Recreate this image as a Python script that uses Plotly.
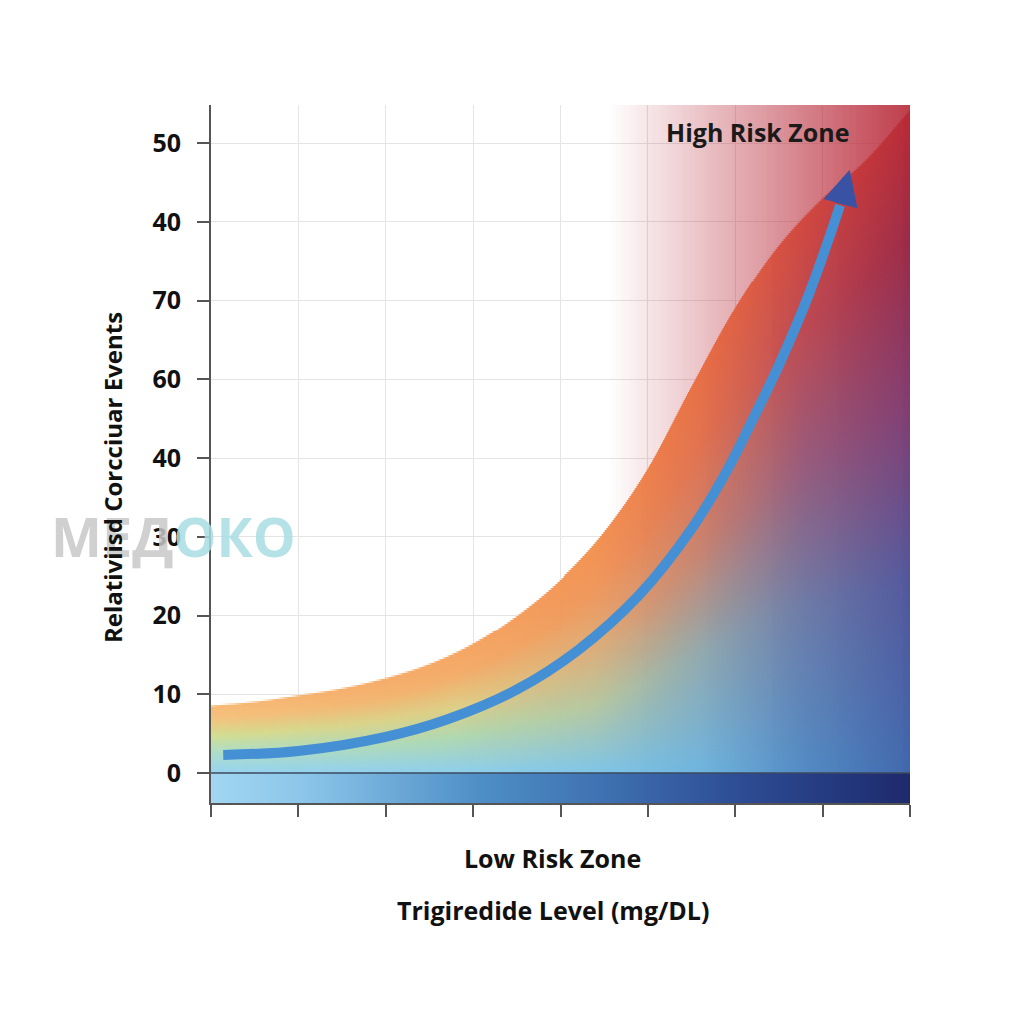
import numpy as np
import plotly.graph_objects as go

# ---------------- data ----------------
curve_x = [0, 0.5, 1.0, 1.5, 2.0, 2.5, 3.0, 3.5, 4.0, 4.5, 5.0, 5.5, 6.0, 6.5, 7.0, 7.5, 8.0]
curve_y = [8.5, 9.0, 9.8, 10.7, 12.0, 13.8, 16.4, 20.0, 24.6, 30.6, 38.6, 49.0, 59.0, 67.0, 73.0, 77.9, 84.2]

arrow_x = [0.14, 1.0, 2.0, 2.7, 3.5, 4.2, 4.9, 5.5, 5.9, 6.2, 6.5, 6.85, 7.2]
arrow_y = [2.3, 2.8, 4.6, 6.8, 10.6, 15.6, 22.6, 31.0, 38.3, 44.9, 51.8, 61.0, 72.1]
arrow_tip = (7.31, 76.6)

y_tickvals = [0, 10, 20, 30, 40, 50, 60, 70, 80]
y_ticktext = ["0", "10", "20", "30", "40", "60", "70", "40", "50"]
x_tickvals = [0, 1, 2, 3, 4, 5, 6, 7, 8]

X_RANGE = [0, 8]
Y_RANGE = [-3.81, 84.83]

FONT = "Open Sans"


# ---------------- helpers ----------------
def hex2rgb(h):
    h = h.lstrip("#")
    return [int(h[i:i + 2], 16) for i in (0, 2, 4)]


def catmull(xs, ys, n=40):
    xs = np.asarray(xs, float)
    ys = np.asarray(ys, float)
    px = np.concatenate([[2 * xs[0] - xs[1]], xs, [2 * xs[-1] - xs[-2]]])
    py = np.concatenate([[2 * ys[0] - ys[1]], ys, [2 * ys[-1] - ys[-2]]])
    ox, oy = [], []
    for i in range(1, len(px) - 2):
        t = np.linspace(0, 1, n, endpoint=False)
        for arr, out in ((px, ox), (py, oy)):
            p0, p1, p2, p3 = arr[i - 1], arr[i], arr[i + 1], arr[i + 2]
            out.extend(0.5 * ((2 * p1) + (-p0 + p2) * t + (2 * p0 - 5 * p1 + 4 * p2 - p3) * t ** 2
                              + (-p0 + 3 * p1 - 3 * p2 + p3) * t ** 3))
    ox.append(xs[-1])
    oy.append(ys[-1])
    return np.array(ox), np.array(oy)


# ---------------- gradient image (fill under curve, risk zone, base strip) ----------------
nx, ny = 700, 350
dx = (X_RANGE[1] - X_RANGE[0]) / nx
dy = (Y_RANGE[1] - Y_RANGE[0]) / ny
xc = X_RANGE[0] + (np.arange(nx) + 0.5) * dx
yc = Y_RANGE[0] + (np.arange(ny) + 0.5) * dy
sx, sy = catmull(curve_x, curve_y)
order = np.argsort(sx)
cy = np.interp(xc, sx[order], sy[order])
u = (xc - X_RANGE[0]) / (X_RANGE[1] - X_RANGE[0])

u_stops = [0.0, 0.35, 0.55, 0.7, 0.85, 1.0]
t_stops = [0.0, 0.3, 0.55, 0.8, 1.0]
table = [
    ["#92d2f0", "#88ccec", "#78c2e6", "#68b4e0", "#4c8cc8", "#3a6ab2"],
    ["#a8dcc8", "#acd6ac", "#b4c49a", "#8ea8ac", "#687aa8", "#4e58a0"],
    ["#cfdc8c", "#dccc80", "#dca872", "#c6806c", "#945a7c", "#7e3e74"],
    ["#f2c078", "#f2aa64", "#ee9254", "#e06e4a", "#bc4650", "#9a2a48"],
    ["#f7b66e", "#f5a25c", "#f28c4a", "#e86a3e", "#d0453c", "#b82a35"],
]
rows = []
for row in table:
    rgb = np.array([hex2rgb(c) for c in row], float)
    rows.append(np.stack([np.interp(u, u_stops, rgb[:, k]) for k in range(3)], axis=-1))

Y = yc[:, None] * np.ones((1, nx))
T = np.clip(Y / cy[None, :], 0, 1)
fill = np.zeros((ny, nx, 3))
for k in range(len(t_stops) - 1):
    m = (T >= t_stops[k]) & (T <= t_stops[k + 1])
    w = ((T - t_stops[k]) / (t_stops[k + 1] - t_stops[k]))[..., None]
    seg = rows[k][None, :, :] * (1 - w) + rows[k + 1][None, :, :] * w
    fill = np.where(m[..., None], seg, fill)

edge = np.clip((cy[None, :] - Y) / dy + 0.5, 0, 1)
af = 0.95 * edge
pink = np.array(hex2rgb("#b92d3c"), float)
ap = (np.clip((xc - 4.55) / 3.45, 0, 1) * 0.92)[None, :] * np.ones((ny, 1))
a = af + ap * (1 - af)
col = (fill * af[..., None] + pink * (ap * (1 - af))[..., None]) / np.maximum(a, 1e-6)[..., None]

strip_u = [0, 0.13, 0.385, 0.557, 0.77, 1.0]
strip_c = np.array([hex2rgb(c) for c in ["#a2d6f2", "#8cc6ea", "#4e8ec6", "#3f72b2", "#2c4a92", "#1e2a6c"]], float)
strip = np.stack([np.interp(u, strip_u, strip_c[:, k]) for k in range(3)], axis=-1)
below = (Y < 0)
col = np.where(below[..., None], strip[None, :, :] * np.ones((ny, 1, 1)), col)
a = np.where(below, 1.0, a)

col_i = np.round(col).astype(int).tolist()
a_r = np.round(a, 2).tolist()
z = [[[c[0], c[1], c[2], al] for c, al in zip(crow, arow)] for crow, arow in zip(col_i, a_r)]

fig = go.Figure()
fig.add_trace(go.Image(z=z, colormodel="rgba", x0=xc[0], dx=dx, y0=yc[0], dy=dy,
                       zsmooth="fast", hoverinfo="skip"))

# arrow line
fig.add_trace(go.Scatter(x=arrow_x, y=arrow_y, mode="lines",
                         line=dict(color="#4590d4", width=10, shape="spline"),
                         hoverinfo="skip", showlegend=False))

# zero line
fig.add_shape(type="line", xref="x domain", yref="y", x0=0, x1=1, y0=0, y1=0,
              line=dict(color="#3c4a5c", width=1.5))

# watermark (drawn first so the texts sit on top of it)
fig.add_annotation(x=-0.054, y=0.3825, xref="paper", yref="paper",
                   text="<span style='color:#c8c8c8'>МЕД</span><span style='color:#a8dde2'>ОКО</span>",
                   showarrow=False, xanchor="center", yanchor="middle", opacity=0.85,
                   font=dict(family=FONT, size=54, weight=700))

fig.add_annotation(x=arrow_tip[0], y=arrow_tip[1], ax=arrow_x[-1], ay=arrow_y[-1], xref="x", yref="y",
                   axref="x", ayref="y", text="", showarrow=True, arrowhead=2, arrowsize=0.7,
                   arrowwidth=10, arrowcolor="#3a52a4")

fig.add_annotation(x=6.26, y=81.4, xref="x", yref="y", text="High Risk Zone", showarrow=False,
                   font=dict(family=FONT, size=25, color="#1a1a1a", weight=700))
fig.add_annotation(x=0.489, y=-0.0788, xref="paper", yref="paper", text="Low Risk Zone", showarrow=False,
                   yanchor="middle", font=dict(family=FONT, size=25, color="#111", weight=700))
fig.add_annotation(x=0.489, y=-0.153, xref="paper", yref="paper", text="Trigiredide Level (mg/DL)",
                   showarrow=False, yanchor="middle", font=dict(family=FONT, size=25, color="#111", weight=700))
fig.add_annotation(x=-0.1416, y=0.4656, xref="paper", yref="paper", text="Relativiisd Corcciuar Events",
                   textangle=-90, showarrow=False, xanchor="center", yanchor="middle",
                   font=dict(family=FONT, size=24, color="#111", weight=700))

fig.update_layout(
    width=1024, height=1024,
    margin=dict(l=211, r=114, t=105, b=221),
    paper_bgcolor="white", plot_bgcolor="white",
    showlegend=False,
    xaxis=dict(range=X_RANGE, tickvals=x_tickvals, showticklabels=False, ticks="outside", ticklen=12,
               tickwidth=1.5, tickcolor="#555", showline=True, linecolor="#555", linewidth=2,
               showgrid=True, gridcolor="#e4e4e4", gridwidth=1, zeroline=False),
    yaxis=dict(range=Y_RANGE, tickvals=y_tickvals, ticktext=y_ticktext, ticks="outside", ticklen=12,
               tickwidth=1.5, tickcolor="#555", showline=True, linecolor="#555", linewidth=2,
               showgrid=True, gridcolor="#e4e4e4", gridwidth=1, zeroline=False, scaleanchor=False,
               ticklabelstandoff=11,
               tickfont=dict(family=FONT, size=25, color="#111", weight=700)),
)

fig.write_html("out.html")
